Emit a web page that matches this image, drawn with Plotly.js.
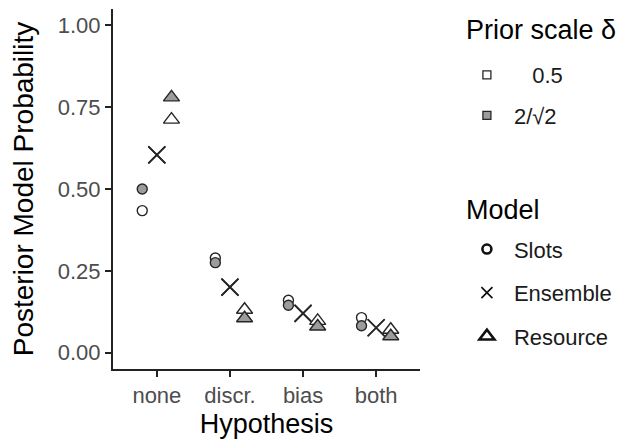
<!DOCTYPE html>
<html>
<head>
<meta charset="utf-8">
<script src="https://cdn.plot.ly/plotly-3.0.1.min.js"></script>
<style>html,body{margin:0;padding:0;background:#fff;}#chart{width:631px;height:440px;}</style>
</head>
<body>
<div id="chart"></div>
<script>
// Data
const hypotheses = ['none', 'discr.', 'bias', 'both'];
const slots_05    = [0.434, 0.289, 0.160, 0.107];
const slots_2     = [0.500, 0.275, 0.145, 0.082];
const ensemble_05 = [0.604, 0.200, 0.120, 0.076];
const ensemble_2  = [0.604, 0.200, 0.120, 0.076];
const resource_05 = [0.712, 0.131, 0.097, 0.070];
const resource_2  = [0.780, 0.105, 0.080, 0.050];
const yTicks = [0, 0.25, 0.5, 0.75, 1];
const priorLabels = ['   0.5', '2/√2'];
const modelLabels = ['Slots', 'Ensemble', 'Resource'];

const FONT = '"Liberation Sans", Arial, Helvetica, sans-serif';
const GRAY = '#9c9c9c';
const EDGE = '#262626';
const dodge = {Slots: -0.2, Ensemble: 0, Resource: 0.2};
const pos = (model) => hypotheses.map((h, i) => i + 1 + dodge[model]);

function pts(model, vals, fill, symbol, size) {
  const isX = symbol === 'x-thin';
  return {
    type: 'scatter', mode: 'markers', x: pos(model), y: vals,
    showlegend: false, hoverinfo: 'skip',
    marker: {symbol: symbol, size: size, color: isX ? EDGE : fill,
             line: {color: EDGE, width: isX ? 1.7 : 1.4}}
  };
}

const traces = [
  pts('Slots', slots_05, '#ffffff', 'circle', 10),
  pts('Slots', slots_2, GRAY, 'circle', 10),
  pts('Ensemble', ensemble_05, '#ffffff', 'x-thin', 17),
  pts('Ensemble', ensemble_2, GRAY, 'x-thin', 17),
  pts('Resource', resource_05, '#ffffff', 'triangle-up', 14),
  pts('Resource', resource_2, GRAY, 'triangle-up', 14),
];

// legend entries
[['#ffffff', priorLabels[0]], [GRAY, priorLabels[1]]].forEach((p, i) => {
  traces.push({type: 'scatter', mode: 'markers', x: [null], y: [null], name: p[1],
    legend: 'legend', legendgroup: 'p' + i, showlegend: true,
    marker: {symbol: 'square', size: 8, color: p[0], line: {color: EDGE, width: 1.3}}});
});
[['circle', 9, 'rgba(0,0,0,0)', 2.6], ['x-thin', 11, EDGE, 1.7], ['triangle-up', 13, 'rgba(0,0,0,0)', 2.6]].forEach((m, i) => {
  traces.push({type: 'scatter', mode: 'markers', x: [null], y: [null], name: modelLabels[i],
    legend: 'legend2', legendgroup: 'm' + i, showlegend: true,
    marker: {symbol: m[0], size: m[1], color: m[2], line: {color: '#111', width: m[3]}}});
});

const layout = {
  width: 631, height: 440,
  margin: {l: 113, r: 211, t: 9, b: 71},
  paper_bgcolor: '#fff', plot_bgcolor: '#fff',
  font: {family: FONT, color: '#000'},
  xaxis: {
    range: [0.4, 4.6], tickvals: [1, 2, 3, 4], ticktext: hypotheses,
    showgrid: false, zeroline: false, showline: true, linecolor: '#222', linewidth: 2,
    ticks: 'outside', ticklen: 6, tickwidth: 2, tickcolor: '#222',
    tickfont: {size: 22, color: '#4d4d4d', family: FONT},
    title: {text: 'Hypothesis', font: {size: 27, color: '#000', family: FONT}, standoff: 7}
  },
  yaxis: {
    range: [-0.05, 1.05], tickvals: yTicks, tickformat: '.2f',
    showgrid: false, zeroline: false, showline: true, linecolor: '#222', linewidth: 2,
    ticks: 'outside', ticklen: 6, tickwidth: 2, tickcolor: '#222',
    tickfont: {size: 22, color: '#4d4d4d', family: FONT},
    title: {text: 'Posterior Model Probability', font: {size: 28, color: '#000', family: FONT}, standoff: 16}
  },
  legend: {
    x: 1.130, xanchor: 'left', y: 0.875, yanchor: 'top', itemwidth: 44,
    font: {size: 22, family: FONT, color: '#1a1a1a'},
    tracegroupgap: 9, bgcolor: 'rgba(0,0,0,0)'
  },
  legend2: {
    x: 1.130, xanchor: 'left', y: 0.391, yanchor: 'top', itemwidth: 44,
    font: {size: 22, family: FONT, color: '#1a1a1a'},
    tracegroupgap: 12, bgcolor: 'rgba(0,0,0,0)'
  },
  annotations: [
    {text: 'Prior scale δ', xref: 'paper', yref: 'paper', x: 1.143, y: (369 - 30) / 360,
     xanchor: 'left', yanchor: 'middle', showarrow: false, font: {size: 27, family: FONT, color: '#000'}},
    {text: 'Model', xref: 'paper', yref: 'paper', x: 1.143, y: (369 - 210) / 360,
     xanchor: 'left', yanchor: 'middle', showarrow: false, font: {size: 27, family: FONT, color: '#000'}}
  ]
};

Plotly.newPlot('chart', traces, layout, {displayModeBar: false, staticPlot: true});
</script>
</body>
</html>
